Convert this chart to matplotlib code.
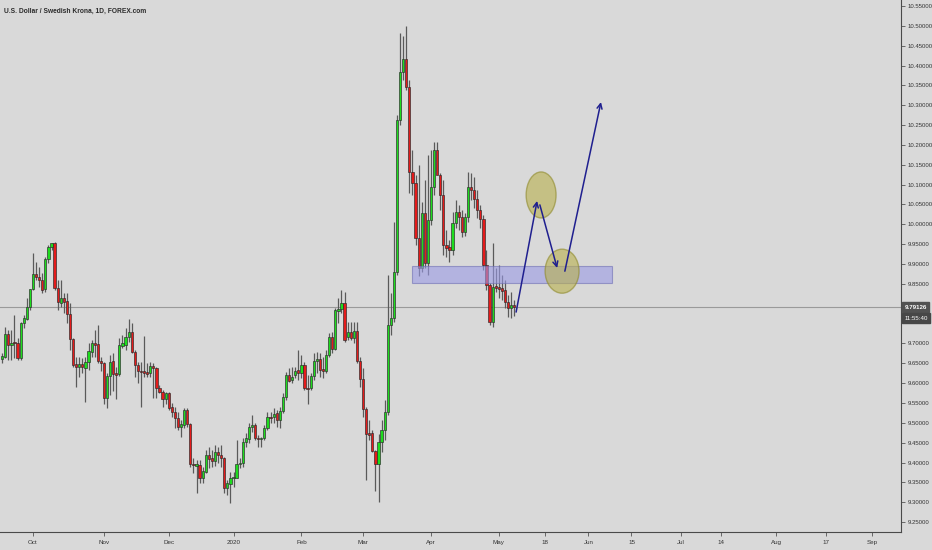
import matplotlib
matplotlib.use("Agg")
import matplotlib.pyplot as plt
from matplotlib.patches import Ellipse, Rectangle
import matplotlib.transforms as mtransforms
import numpy as np
import pandas as pd

plt.rcParams['font.family'] = ['Liberation Sans', 'DejaVu Sans']

title = "U.S. Dollar / Swedish Krona, 1D, FOREX.com"
start_date = "2019-09-17"
holidays = ["2019-12-25", "2020-01-01"]

opens = [9.661, 9.666, 9.724, 9.696, 9.704, 9.701, 9.663, 9.751, 9.762, 9.792,
         9.837, 9.875, 9.867, 9.860, 9.837, 9.913, 9.943, 9.953, 9.840, 9.802,
         9.814, 9.807, 9.774, 9.711, 9.648, 9.640, 9.648, 9.638, 9.653, 9.678,
         9.701, 9.699, 9.656, 9.651, 9.562, 9.618, 9.656, 9.625, 9.623, 9.693,
         9.696, 9.716, 9.729, 9.678, 9.646, 9.630, 9.630, 9.628, 9.625, 9.643,
         9.638, 9.588, 9.577, 9.560, 9.575, 9.540, 9.527, 9.512, 9.489, 9.494,
         9.532, 9.497, 9.396, 9.391, 9.394, 9.361, 9.376, 9.419, 9.411, 9.404,
         9.426, 9.419, 9.411, 9.336, 9.346, 9.361, 9.361, 9.396, 9.399, 9.452,
         9.459, 9.489, 9.494, 9.462, 9.459, 9.462, 9.487, 9.515, 9.515, 9.525,
         9.507, 9.530, 9.565, 9.620, 9.608, 9.620, 9.633, 9.625, 9.646, 9.588,
         9.588, 9.618, 9.656, 9.661, 9.635, 9.630, 9.671, 9.716, 9.686, 9.782,
         9.787, 9.802, 9.716, 9.729, 9.714, 9.731, 9.656, 9.610, 9.535, 9.474,
         9.474, 9.429, 9.396, 9.452, 9.482, 9.527, 9.746, 9.764, 9.880, 10.263,
         10.384, 10.416, 10.346, 10.132, 10.104, 9.965, 9.890, 10.029, 9.903, 10.011,
         10.094, 10.187, 10.124, 10.074, 9.948, 9.943, 9.935, 10.003, 10.031, 10.018,
         9.980, 10.018, 10.094, 10.086, 10.064, 10.036, 10.013, 9.897, 9.847, 9.754,
         9.845, 9.842, 9.840, 9.835, 9.804, 9.789, 9.797]

highs = [9.676, 9.741, 9.734, 9.734, 9.771, 9.714, 9.754, 9.771, 9.814, 9.837,
         9.928, 9.905, 9.893, 9.877, 9.918, 9.948, 9.953, 9.955, 9.860, 9.860,
         9.827, 9.827, 9.802, 9.714, 9.666, 9.666, 9.663, 9.666, 9.701, 9.709,
         9.734, 9.746, 9.666, 9.653, 9.625, 9.671, 9.676, 9.640, 9.714, 9.721,
         9.739, 9.762, 9.751, 9.683, 9.653, 9.653, 9.719, 9.651, 9.653, 9.651,
         9.640, 9.595, 9.583, 9.578, 9.578, 9.550, 9.540, 9.527, 9.507, 9.537,
         9.537, 9.499, 9.411, 9.406, 9.406, 9.388, 9.432, 9.439, 9.432, 9.444,
         9.439, 9.444, 9.414, 9.356, 9.376, 9.376, 9.457, 9.411, 9.462, 9.474,
         9.499, 9.520, 9.499, 9.469, 9.464, 9.494, 9.527, 9.527, 9.537, 9.532,
         9.540, 9.575, 9.628, 9.638, 9.640, 9.640, 9.683, 9.671, 9.653, 9.620,
         9.625, 9.676, 9.678, 9.676, 9.666, 9.683, 9.726, 9.729, 9.789, 9.814,
         9.835, 9.830, 9.754, 9.754, 9.754, 9.754, 9.666, 9.638, 9.540, 9.507,
         9.482, 9.432, 9.472, 9.507, 9.557, 9.872, 9.827, 10.006, 10.275, 10.482,
         10.475, 10.500, 10.364, 10.187, 10.124, 10.149, 10.056, 10.112, 10.175, 10.187,
         10.208, 10.208, 10.129, 10.112, 9.986, 9.960, 10.031, 10.061, 10.049, 10.036,
         10.029, 10.132, 10.129, 10.119, 10.086, 10.049, 10.023, 9.935, 9.852, 9.953,
         9.890, 9.897, 9.872, 9.860, 9.822, 9.830, 9.809]

lows = [9.651, 9.663, 9.658, 9.658, 9.663, 9.658, 9.658, 9.739, 9.759, 9.784,
        9.835, 9.860, 9.842, 9.827, 9.830, 9.903, 9.935, 9.835, 9.784, 9.792,
        9.777, 9.751, 9.683, 9.640, 9.590, 9.615, 9.625, 9.552, 9.633, 9.666,
        9.666, 9.651, 9.630, 9.547, 9.537, 9.570, 9.580, 9.560, 9.618, 9.688,
        9.683, 9.704, 9.676, 9.615, 9.600, 9.540, 9.615, 9.615, 9.615, 9.562,
        9.562, 9.575, 9.540, 9.547, 9.532, 9.515, 9.487, 9.482, 9.464, 9.487,
        9.489, 9.388, 9.373, 9.323, 9.348, 9.348, 9.373, 9.386, 9.388, 9.391,
        9.399, 9.388, 9.323, 9.318, 9.298, 9.338, 9.361, 9.386, 9.388, 9.439,
        9.449, 9.477, 9.457, 9.439, 9.439, 9.457, 9.482, 9.499, 9.499, 9.489,
        9.487, 9.525, 9.557, 9.603, 9.600, 9.613, 9.608, 9.613, 9.583, 9.547,
        9.583, 9.608, 9.625, 9.615, 9.613, 9.625, 9.666, 9.676, 9.683, 9.751,
        9.777, 9.704, 9.709, 9.709, 9.701, 9.651, 9.590, 9.515, 9.356, 9.457,
        9.426, 9.328, 9.301, 9.426, 9.457, 9.520, 9.721, 9.754, 9.872, 10.250,
        10.364, 10.339, 10.079, 10.074, 9.948, 9.870, 9.880, 9.890, 9.872, 9.998,
        10.074, 10.132, 10.036, 9.923, 9.918, 9.905, 9.923, 9.991, 9.986, 9.968,
        9.970, 10.006, 10.061, 10.041, 10.016, 9.991, 9.885, 9.835, 9.746, 9.741,
        9.830, 9.814, 9.809, 9.789, 9.767, 9.764, 9.769]

closes = [9.668, 9.724, 9.696, 9.701, 9.701, 9.663, 9.751, 9.764, 9.792, 9.837,
          9.875, 9.867, 9.860, 9.835, 9.913, 9.943, 9.953, 9.840, 9.804, 9.814,
          9.804, 9.774, 9.711, 9.646, 9.640, 9.648, 9.640, 9.653, 9.681, 9.701,
          9.696, 9.656, 9.651, 9.562, 9.618, 9.653, 9.623, 9.620, 9.696, 9.701,
          9.716, 9.729, 9.678, 9.646, 9.630, 9.628, 9.625, 9.623, 9.643, 9.638,
          9.588, 9.577, 9.560, 9.575, 9.537, 9.527, 9.512, 9.489, 9.497, 9.532,
          9.497, 9.396, 9.394, 9.396, 9.361, 9.378, 9.419, 9.409, 9.404, 9.426,
          9.419, 9.411, 9.336, 9.348, 9.361, 9.363, 9.396, 9.399, 9.452, 9.462,
          9.489, 9.494, 9.462, 9.459, 9.462, 9.487, 9.515, 9.512, 9.522, 9.507,
          9.530, 9.565, 9.620, 9.605, 9.615, 9.630, 9.625, 9.646, 9.588, 9.585,
          9.618, 9.656, 9.661, 9.633, 9.630, 9.671, 9.716, 9.686, 9.784, 9.787,
          9.802, 9.709, 9.729, 9.714, 9.731, 9.656, 9.610, 9.535, 9.472, 9.469,
          9.429, 9.396, 9.452, 9.482, 9.527, 9.746, 9.764, 9.880, 10.263, 10.384,
          10.416, 10.346, 10.132, 10.104, 9.965, 9.890, 10.029, 9.903, 10.011, 10.094,
          10.187, 10.124, 10.074, 9.948, 9.940, 9.935, 10.003, 10.031, 10.018, 9.980,
          10.018, 10.094, 10.086, 10.064, 10.036, 10.013, 9.897, 9.847, 9.754, 9.842,
          9.840, 9.837, 9.832, 9.804, 9.789, 9.797, 9.79126]

tick_dates = ["2019-10-01", "2019-11-01", "2019-12-02", "2020-01-02", "2020-02-03",
              "2020-03-02", "2020-04-01", "2020-05-01", "2020-05-18", "2020-06-01",
              "2020-06-15", "2020-07-01", "2020-07-14", "2020-08-01", "2020-08-17",
              "2020-09-01"]
tick_labels = ["Oct", "Nov", "Dec", "2020", "Feb", "Mar", "Apr", "May", "18", "Jun",
               "15", "Jul", "14", "Aug", "17", "Sep"]

price_ticks = [10.55, 10.50, 10.45, 10.40, 10.35, 10.30, 10.25, 10.20, 10.15, 10.10,
               10.05, 10.00, 9.95, 9.90, 9.85, 9.70, 9.65, 9.60, 9.55, 9.50,
               9.45, 9.40, 9.35, 9.30, 9.25]

last_price = 9.79126
countdown = "11:55:40"

# ---- dates / positions ----
n = len(closes)
bdays = pd.bdate_range(start_date, periods=n + 10)
bdays = bdays[~bdays.isin(pd.to_datetime(holidays))][:n]
date_index = {d: i for i, d in enumerate(bdays)}
last_date = bdays[-1]


def xpos(ds):
    d = pd.Timestamp(ds)
    if d in date_index:
        return date_index[d]
    if d > last_date:
        return (n - 1) + (d - last_date).days
    return int(np.searchsorted(bdays, d))


# ---- figure ----
bg = '#d9d9d9'
fig = plt.figure(figsize=(9.32, 5.5), dpi=100, facecolor=bg)
ax = fig.add_axes([0, 18 / 550, 901 / 932, 532 / 550])
ax.set_facecolor(bg)

o = np.array(opens); h = np.array(highs); l = np.array(lows); c = np.array(closes)
x = np.arange(n)
up = c >= o
green = '#1edc1e'
red = '#e41b1b'
colors = np.where(up, green, red)

ax.vlines(x, l, h, color='#5a5a5a', linewidth=0.9, zorder=2)
bottoms = np.minimum(o, c)
heights = np.maximum(np.abs(c - o), 0.0025)
ax.bar(x, heights, bottom=bottoms, width=0.72, color=colors,
       edgecolor='#2a2a2a', linewidth=0.45, zorder=3)

# current price line
ax.axhline(last_price, color='#9a9a9a', linewidth=0.8, zorder=1)

# support zone rectangle
ax.add_patch(Rectangle((132.9, 9.852), 64.8, 0.043, facecolor='#9a9ae6', alpha=0.6,
                       edgecolor='#6f6fb5', linewidth=0.8, zorder=4))

# ellipses
for (cx, cy, w, hh) in [(174.7, 10.074, 9.7, 0.116), (181.5, 9.882, 11.0, 0.111)]:
    ax.add_patch(Ellipse((cx, cy), w, hh, facecolor='#b8b04c', alpha=0.6,
                         edgecolor='#8f8a2c', linewidth=1.0, zorder=5))

# arrows
arrow_col = '#1f1f8f'
for (x0, y0, x1, y1) in [(166.6, 9.779, 173.4, 10.059),
                         (174.3, 10.049, 179.9, 9.890),
                         (182.4, 9.882, 194.1, 10.308)]:
    ax.annotate('', xy=(x1, y1), xytext=(x0, y0),
                arrowprops=dict(arrowstyle='->', color=arrow_col, lw=1.1,
                                shrinkA=0, shrinkB=0, mutation_scale=9),
                zorder=6)

# limits
ax.set_xlim((0 - 2.15) / 3.085, (901 - 2.15) / 3.085)
ax.set_ylim(10.5651 - 532 * 0.0025189, 10.5651)

# axes styling
for s in ['left', 'top']:
    ax.spines[s].set_visible(False)
for s in ['right', 'bottom']:
    ax.spines[s].set_color('#4a4a4a')
    ax.spines[s].set_linewidth(0.8)

ax.yaxis.tick_right()
ax.set_yticks(price_ticks)
ax.set_yticklabels([f"{v:.5f}" for v in price_ticks])
ax.tick_params(axis='y', direction='out', length=3, width=0.6, colors='#555555',
               labelcolor='#333333', labelsize=4.3, pad=1.5)

ax.set_xticks([xpos(d) for d in tick_dates])
ax.set_xticklabels(tick_labels)
ax.tick_params(axis='x', direction='out', length=3, width=0.6, colors='#555555',
               labelcolor='#333333', labelsize=4.5, pad=3)

# last price and countdown labels
trans = mtransforms.blended_transform_factory(ax.transAxes, ax.transData)
ax.text(1.004, last_price, f"{last_price:.5f}", transform=trans, fontsize=4.4,
        color='white', fontweight='bold', va='center', ha='left', zorder=10,
        clip_on=False,
        bbox=dict(boxstyle='square,pad=0.4', facecolor='#525252', edgecolor='#525252'))
ax.text(1.004, last_price - 0.0275, countdown, transform=trans, fontsize=4.4,
        color='white', va='center', ha='left', zorder=10, clip_on=False,
        bbox=dict(boxstyle='square,pad=0.4', facecolor='#474747', edgecolor='#474747'))

fig.text(4 / 932, 1 - 11 / 550, title, fontsize=4.8, fontweight='bold',
         color='#2b2b2b', ha='left', va='center')

fig.savefig('out.png', dpi=100, facecolor=bg)
